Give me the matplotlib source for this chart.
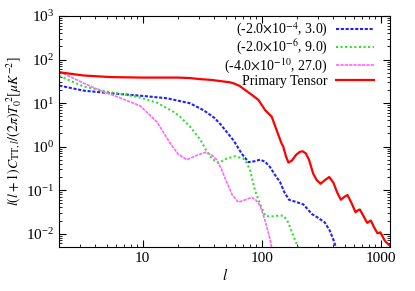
import numpy as np
import matplotlib.pyplot as plt
from matplotlib.ticker import FixedLocator, FixedFormatter, LogLocator, NullFormatter

plt.rcParams['font.family'] = ['Liberation Serif', 'DejaVu Serif']
plt.rcParams['mathtext.fontset'] = 'stix'

# multipole l and l(l+1)C_l/(2pi)T0^2
l_red = [2, 3.2, 5.4, 10, 20, 25, 30.5, 38, 45, 54, 58, 65, 72.6, 84, 94, 107, 121.6, 133.6, 147, 152, 160,
         168, 180, 195, 210, 221, 235, 250, 271, 290, 313, 340, 370, 400, 430, 463, 495, 527, 570, 615, 640,
         668, 720, 770, 800, 827, 880, 940, 995, 1082, 1200]
c_red = [51, 43, 39.5, 38.5, 38.5, 37.5, 35.5, 34, 32, 30, 28.5, 25, 20, 15, 11.8, 6.9, 4.85, 2.4, 1.18, 1.0,
         0.6, 0.43, 0.48, 0.65, 0.76, 0.78, 0.7, 0.5, 0.24, 0.17, 0.14, 0.17, 0.2, 0.15, 0.09, 0.06, 0.07,
         0.077, 0.05, 0.031, 0.034, 0.036, 0.025, 0.0177, 0.019, 0.02, 0.014, 0.0102, 0.0107, 0.0069, 0.0052]

l_blue = [2, 3.2, 5.4, 10, 16, 25, 32.4, 40, 45, 50, 58, 68, 77.5, 87, 97, 107, 117.6, 130, 142.5, 155,
          170, 197, 224, 245, 263, 299, 340, 374, 399, 425]
c_blue = [25.2, 19.3, 16.8, 14.6, 12.9, 9.9, 6.9, 4.6, 3.3, 2.3, 1.4, 0.69, 0.44, 0.46, 0.50, 0.45, 0.34,
          0.22, 0.155, 0.09, 0.06, 0.053, 0.047, 0.036, 0.0285, 0.023, 0.018, 0.0117, 0.0075, 0.0045]

l_green = [2, 3.2, 5.4, 9, 13.2, 18.2, 20.7, 25.1, 30.5, 34, 38.2, 43.4, 50.9, 59.8, 70.3, 75, 80, 88, 94,
           100, 107, 115, 125, 140, 152, 160, 167.5, 184.5, 203]
c_green = [42, 24, 17.7, 14, 10.2, 6.3, 4.85, 2.85, 1.45, 0.85, 0.53, 0.42, 0.53, 0.6, 0.53, 0.42, 0.285,
           0.098, 0.06, 0.04, 0.026, 0.025, 0.025, 0.026, 0.026, 0.022, 0.018, 0.009, 0.0048]

l_mag = [2, 3.2, 4.5, 6.1, 9.56, 13.2, 17.1, 20, 23.6, 28.6, 33.6, 38, 42, 46, 50.9, 57, 63.8, 73, 82.6,
         90, 97, 107, 117.6, 122]
c_mag = [53, 28.6, 19, 14, 8.6, 3.7, 1.18, 0.66, 0.5, 0.63, 0.74, 0.64, 0.5, 0.3, 0.153, 0.075, 0.053,
         0.06, 0.068, 0.058, 0.044, 0.02, 0.0075, 0.0045]

labels = [r'(-2.0$\times$10$^{-4}$, 3.0)', r'(-2.0$\times$10$^{-6}$, 9.0)',
          r'(-4.0$\times$10$^{-10}$, 27.0)', 'Primary Tensor']

fig = plt.figure(figsize=(4.15, 2.91), dpi=100)
ax = fig.add_axes([0.143, 0.152, 0.797, 0.793])

ax.plot(l_blue, c_blue, color='#2020ff', lw=1.5, ls=(0, (1.5, 0.8)), label=labels[0])
ax.plot(l_green, c_green, color='#30e030', lw=1.5, ls=(0, (1, 1.2)), label=labels[1])
ax.plot(l_mag, c_mag, color='#ff66ff', lw=1.2, ls=(0, (2, 0.6)), label=labels[2])
ax.plot(l_red, c_red, color='#ff0000', lw=1.6, label=labels[3])

ax.set_xscale('log')
ax.set_yscale('log')
ax.set_xlim(2, 1200)
ax.set_ylim(0.005, 1000)

ax.xaxis.set_major_locator(FixedLocator([10, 100, 1000]))
ax.xaxis.set_major_formatter(FixedFormatter(['10', '100', '1000']))
ax.xaxis.set_minor_locator(LogLocator(subs=np.arange(2, 10)))
ax.xaxis.set_minor_formatter(NullFormatter())
ax.yaxis.set_minor_locator(LogLocator(subs=np.arange(2, 10)))
ax.yaxis.set_minor_formatter(NullFormatter())
ax.tick_params(which='both', direction='in', top=True, right=True, labelsize=11)
ax.tick_params(which='major', length=5)
ax.tick_params(which='minor', length=2.5)

ax.set_xlabel(r'$l$', fontsize=11, labelpad=2)
ax.set_ylabel(r'$l(l+1)C_{\mathrm{TT},l}/(2\pi)T_0^{\ 2}[\mu K^{-2}]$', fontsize=10, labelpad=2)

ax.legend(loc='upper right', frameon=False, markerfirst=False, fontsize=10,
          handlelength=2.7, handletextpad=0.6, labelspacing=-0.05,
          borderaxespad=0.0, borderpad=0.1, bbox_to_anchor=(0.955, 0.985))

fig.savefig('out.png', dpi=100)
